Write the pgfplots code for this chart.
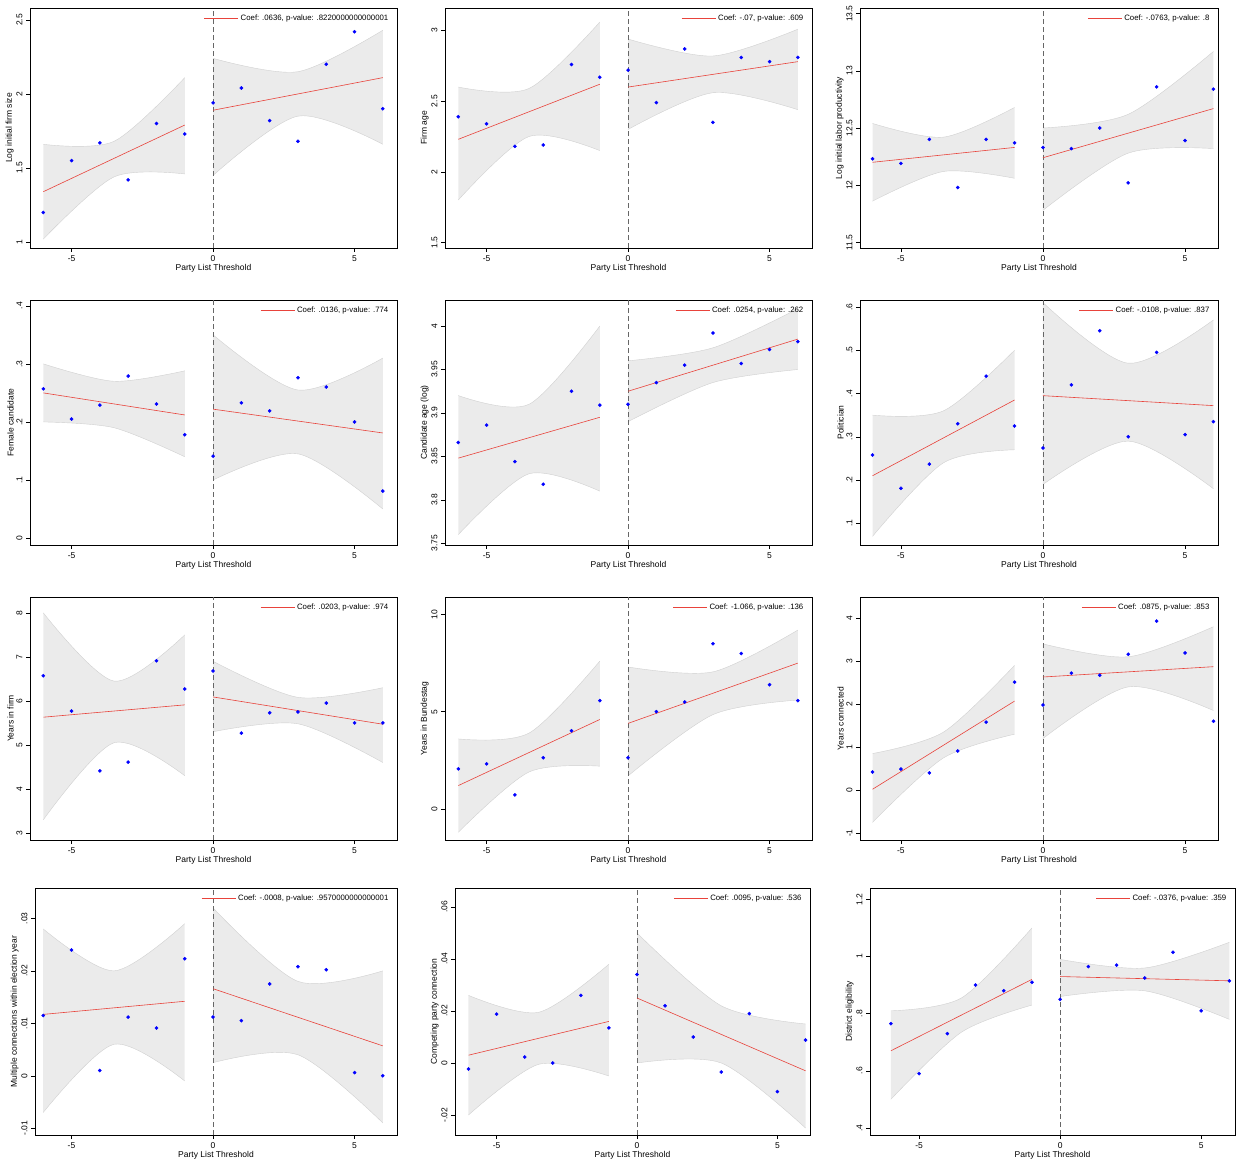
\documentclass[border=0pt]{standalone}
\usepackage{pgfplots}
\pgfplotsset{compat=1.18}
\usepgfplotslibrary{fillbetween}
\usepackage{fontspec}
\setmainfont{Liberation Sans}
\definecolor{bandf}{HTML}{EBEBEB}
\definecolor{bande}{HTML}{D0D0D0}
\definecolor{fitred}{HTML}{E8433B}
\pgfplotsset{
  panel/.style={scale only axis, anchor=north west, axis line style={black,line width=0.6pt},
    tick align=outside, xtick pos=bottom, ytick pos=left, major tick length=4pt,
    tick style={black,line width=0.5pt}, scaled y ticks=false, scaled x ticks=false,
    xtick={-5,0,5}, xticklabels={-5,0,5},
    yticklabel style={rotate=90,anchor=south},
    ticklabel style={font=\fontsize{8.5}{10}\selectfont},
    label style={font=\fontsize{8.5}{10}\selectfont},
    xlabel={Party List Threshold}, xlabel style={yshift=4pt}, ylabel style={yshift=-4pt},
    /pgf/number format/assume math mode=true,
    legend style={at={(0.985,0.985)},anchor=north east,draw=none,fill=none,font=\fontsize{7.8}{8.5}\selectfont,inner sep=1pt},
    legend image code/.code={\draw[fitred,line width=0.6pt](0,0)--(1.2cm,0);},
    legend cell align=left}
}
\newcommand\band[2]{%
  \addplot[name path=U,draw=bande,smooth,forget plot] coordinates {#1};
  \addplot[name path=L,draw=bande,smooth,forget plot] coordinates {#2};
  \addplot[fill=bandf,draw=none,forget plot] fill between[of=U and L];}
\newcommand\pts[1]{\addplot[only marks,mark=*,mark size=1.6pt,color=blue,forget plot] coordinates {#1};}
\newcommand\fits[3]{\addplot[fitred,line width=0.6pt] coordinates {#1}; \addlegendentry{#3}
  \addplot[fitred,line width=0.6pt,forget plot] coordinates {#2};}
\newcommand\zl[2]{\addplot[black!60,dash pattern=on 5pt off 3pt,forget plot] coordinates {(0,#1)(0,#2)};}
\begin{document}
\begin{tikzpicture}
\path (0pt,0pt) rectangle (1236pt,-1165pt);
% Row 1
\begin{axis}[panel,at={(30pt,-8pt)},width=367pt,height=240pt,xmin=-6.47,xmax=6.5,ymin=0.96,ymax=2.58,
  ytick={1,1.5,2,2.5},yticklabels={1,1.5,2,2.5},ylabel={Log initial firm size}]
\band{(-6,1.66)(-3.5,1.68)(-1,2.11)}{(-6,1.02)(-3.5,1.44)(-1,1.46)}
\band{(0,2.24)(3,2.15)(6,2.43)}{(0,1.45)(3,1.85)(6,1.66)}
\zl{0.96}{2.58}
\fits{(-6,1.34)(-1,1.79)}{(0,1.89)(6,2.11)}{Coef: .0636, p-value: .8220000000000001}
\pts{(-6,1.20)(-5,1.55)(-4,1.67)(-3,1.42)(-2,1.80)(-1,1.73)(0,1.94)(1,2.04)(2,1.82)(3,1.68)(4,2.20)(5,2.42)(6,1.90)}
\end{axis}
\begin{axis}[panel,at={(445pt,-8pt)},width=367pt,height=240pt,xmin=-6.47,xmax=6.5,ymin=1.46,ymax=3.16,
  ytick={1.5,2,2.5,3},yticklabels={1.5,2,2.5,3},ylabel={Firm age}]
\band{(-6,2.60)(-3.5,2.59)(-1,3.06)}{(-6,1.80)(-3.5,2.25)(-1,2.15)}
\band{(0,2.94)(3,2.82)(6,3.01)}{(0,2.30)(3,2.56)(6,2.44)}
\zl{1.46}{3.16}
\fits{(-6,2.23)(-1,2.62)}{(0,2.60)(6,2.78)}{Coef: -.07, p-value: .609}
\pts{(-6,2.39)(-5,2.34)(-4,2.18)(-3,2.19)(-2,2.76)(-1,2.67)(0,2.72)(1,2.49)(2,2.87)(3,2.35)(4,2.81)(5,2.78)(6,2.81)}
\end{axis}
\begin{axis}[panel,at={(860pt,-8pt)},width=358pt,height=240pt,xmin=-6.44,xmax=6.16,ymin=11.45,ymax=13.55,
  ytick={11.5,12,12.5,13,13.5},yticklabels={11.5,12,12.5,13,13.5},ylabel={Log initial labor productivity}]
\band{(-6,12.54)(-3.5,12.42)(-1,12.68)}{(-6,11.86)(-3.5,12.12)(-1,12.06)}
\band{(0,12.50)(3,12.62)(6,13.17)}{(0,11.78)(3,12.28)(6,12.32)}
\zl{11.45}{13.55}
\fits{(-6,12.20)(-1,12.33)}{(0,12.24)(6,12.67)}{Coef: -.0763, p-value: .8}
\pts{(-6,12.23)(-5,12.19)(-4,12.40)(-3,11.98)(-2,12.40)(-1,12.37)(0,12.33)(1,12.32)(2,12.50)(3,12.02)(4,12.86)(5,12.39)(6,12.84)}
\end{axis}
% Row 2
\begin{axis}[panel,at={(30pt,-300pt)},width=367pt,height=245pt,xmin=-6.47,xmax=6.5,ymin=-0.012,ymax=0.41,
  ytick={0,0.1,0.2,0.3,0.4},yticklabels={0,.1,.2,.3,.4},ylabel={Female candidate}]
\band{(-6,0.30)(-3.5,0.27)(-1,0.288)}{(-6,0.20)(-3.5,0.19)(-1,0.14)}
\band{(0,0.35)(3,0.255)(6,0.31)}{(0,0.10)(3,0.145)(6,0.05)}
\zl{-0.012}{0.41}
\fits{(-6,0.25)(-1,0.212)}{(0,0.222)(6,0.181)}{Coef: .0136, p-value: .774}
\pts{(-6,.257)(-5,.205)(-4,.229)(-3,.279)(-2,.231)(-1,.178)(0,.141)(1,.233)(2,.219)(3,.276)(4,.260)(5,.200)(6,.081)}
\end{axis}
\begin{axis}[panel,at={(445pt,-300pt)},width=367pt,height=245pt,xmin=-6.47,xmax=6.5,ymin=3.748,ymax=4.03,
  ytick={3.75,3.8,3.85,3.9,3.95,4},yticklabels={3.75,3.8,3.85,3.9,3.95,4},ylabel={Candidate age (log)}]
\band{(-6,3.92)(-3.5,3.91)(-1,4.0)}{(-6,3.76)(-3.5,3.83)(-1,3.81)}
\band{(0,3.96)(3,3.975)(6,4.02)}{(0,3.89)(3,3.935)(6,3.95)}
\zl{3.748}{4.03}
\fits{(-6,3.848)(-1,3.895)}{(0,3.925)(6,3.985)}{Coef: .0254, p-value: .262}
\pts{(-6,3.866)(-5,3.886)(-4,3.844)(-3,3.818)(-2,3.925)(-1,3.909)(0,3.910)(1,3.935)(2,3.955)(3,3.992)(4,3.957)(5,3.973)(6,3.982)}
\end{axis}
\begin{axis}[panel,at={(860pt,-300pt)},width=358pt,height=245pt,xmin=-6.44,xmax=6.16,ymin=0.05,ymax=0.616,
  ytick={0.1,0.2,0.3,0.4,0.5,0.6},yticklabels={.1,.2,.3,.4,.5,.6},ylabel={Politician}]
\band{(-6,0.35)(-3.5,0.36)(-1,0.50)}{(-6,0.07)(-3.5,0.24)(-1,0.27)}
\band{(0,0.61)(3,0.47)(6,0.57)}{(0,0.19)(3,0.29)(6,0.18)}
\zl{0.05}{0.616}
\fits{(-6,0.21)(-1,0.385)}{(0,0.395)(6,0.372)}{Coef: -.0108, p-value: .837}
\pts{(-6,.258)(-5,.181)(-4,.237)(-3,.330)(-2,.44)(-1,.325)(0,.274)(1,.42)(2,.545)(3,.30)(4,.495)(5,.305)(6,.335)}
\end{axis}
% Row 3
\begin{axis}[panel,at={(30pt,-597pt)},width=367pt,height=243pt,xmin=-6.47,xmax=6.5,ymin=2.84,ymax=8.36,
  ytick={3,4,5,6,7,8},yticklabels={3,4,5,6,7,8},ylabel={Years in firm}]
\band{(-6,8.0)(-3.5,6.45)(-1,7.5)}{(-6,3.3)(-3.5,5.05)(-1,4.3)}
\band{(0,6.9)(3,6.08)(6,6.3)}{(0,5.3)(3,5.48)(6,4.6)}
\zl{2.84}{8.36}
\fits{(-6,5.63)(-1,5.91)}{(0,6.09)(6,5.47)}{Coef: .0203, p-value: .974}
\pts{(-6,6.57)(-5,5.77)(-4,4.41)(-3,4.61)(-2,6.91)(-1,6.27)(0,6.68)(1,5.27)(2,5.73)(3,5.75)(4,5.95)(5,5.5)(6,5.5)}
\end{axis}
\begin{axis}[panel,at={(445pt,-597pt)},width=367pt,height=243pt,xmin=-6.47,xmax=6.5,ymin=-1.6,ymax=10.9,
  ytick={0,5,10},yticklabels={0,5,10},ylabel={Years in Bundestag}]
\band{(-6,3.6)(-3.5,3.9)(-1,7.6)}{(-6,-1.2)(-3.5,1.9)(-1,2.2)}
\band{(0,7.3)(3,7.05)(6,9.2)}{(0,1.7)(3,4.85)(6,5.6)}
\zl{-1.6}{10.9}
\fits{(-6,1.2)(-1,4.6)}{(0,4.4)(6,7.5)}{Coef: -1.066, p-value: .136}
\pts{(-6,2.06)(-5,2.32)(-4,0.72)(-3,2.63)(-2,4.02)(-1,5.57)(0,2.63)(1,5.0)(2,5.5)(3,8.5)(4,7.99)(5,6.39)(6,5.57)}
\end{axis}
\begin{axis}[panel,at={(860pt,-597pt)},width=358pt,height=243pt,xmin=-6.44,xmax=6.16,ymin=-1.16,ymax=4.49,
  ytick={-1,0,1,2,3,4},yticklabels={-1,0,1,2,3,4},ylabel={Years connected}]
\band{(-6,0.85)(-3.5,1.35)(-1,2.9)}{(-6,-0.75)(-3.5,0.75)(-1,1.3)}
\band{(0,3.4)(3,3.1)(6,3.8)}{(0,1.2)(3,2.4)(6,1.85)}
\zl{-1.16}{4.49}
\fits{(-6,0.02)(-1,2.07)}{(0,2.63)(6,2.87)}{Coef: .0875, p-value: .853}
\pts{(-6,.42)(-5,.49)(-4,.40)(-3,.91)(-2,1.58)(-1,2.51)(0,1.98)(1,2.72)(2,2.67)(3,3.16)(4,3.93)(5,3.19)(6,1.6)}
\end{axis}
% Row 4
\begin{axis}[panel,at={(35pt,-888pt)},width=362pt,height=247pt,xmin=-6.29,xmax=6.5,ymin=-0.0113,ymax=0.0358,
  ytick={-0.01,0,0.01,0.02,0.03},yticklabels={-.01,0,.01,.02,.03},ylabel={Multiple connections within election year}]
\band{(-6,0.028)(-3.5,0.020)(-1,0.029)}{(-6,-0.007)(-3.5,0.006)(-1,-0.001)}
\band{(0,0.032)(3,0.018)(6,0.020)}{(0,0.0025)(3,0.004)(6,-0.009)}
\zl{-0.0113}{0.0358}
\fits{(-6,0.0117)(-1,0.0142)}{(0,0.0166)(6,0.0057)}{Coef: -.0008, p-value: .9570000000000001}
\pts{(-6,.0115)(-5,.024)(-4,.001)(-3,.0112)(-2,.0091)(-1,.0223)(0,.0112)(1,.0105)(2,.0175)(3,.0208)(4,.0202)(5,.0006)(6,0)}
\end{axis}
\begin{axis}[panel,at={(455pt,-888pt)},width=355pt,height=247pt,xmin=-6.48,xmax=6.16,ymin=-0.0277,ymax=0.0673,
  ytick={-0.02,0,0.02,0.04,0.06},yticklabels={-.02,0,.02,.04,.06},ylabel={Competing party connection}]
\band{(-6,0.026)(-3.5,0.0195)(-1,0.038)}{(-6,-0.02)(-3.5,-0.0005)(-1,-0.005)}
\band{(0,0.05)(3,0.022)(6,0.015)}{(0,0.0)(3,0.0)(6,-0.025)}
\zl{-0.0277}{0.0673}
\fits{(-6,0.003)(-1,0.016)}{(0,0.025)(6,-0.003)}{Coef: .0095, p-value: .536}
\pts{(-6,-.0023)(-5,.0188)(-4,.0023)(-3,0)(-2,.026)(-1,.0135)(0,.034)(1,.022)(2,.010)(3,-.0035)(4,.019)(5,-.011)(6,.0088)}
\end{axis}
\begin{axis}[panel,at={(870pt,-888pt)},width=365pt,height=247pt,xmin=-6.74,xmax=6.2,ymin=0.375,ymax=1.24,
  ytick={0.4,0.6,0.8,1,1.2},yticklabels={.4,.6,.8,1,1.2},ylabel={District eligibility}]
\band{(-6,0.81)(-3.5,0.855)(-1,1.1)}{(-6,0.50)(-3.5,0.735)(-1,0.83)}
\band{(0,0.99)(3,0.96)(6,1.05)}{(0,0.86)(3,0.88)(6,0.78)}
\zl{0.375}{1.24}
\fits{(-6,0.67)(-1,0.92)}{(0,0.93)(6,0.915)}{Coef: -.0376, p-value: .359}
\pts{(-6,.765)(-5,.59)(-4,.73)(-3,.90)(-2,.88)(-1,.91)(0,.85)(1,.965)(2,.97)(3,.925)(4,1.015)(5,.81)(6,.915)}
\end{axis}
\end{tikzpicture}
\end{document}
